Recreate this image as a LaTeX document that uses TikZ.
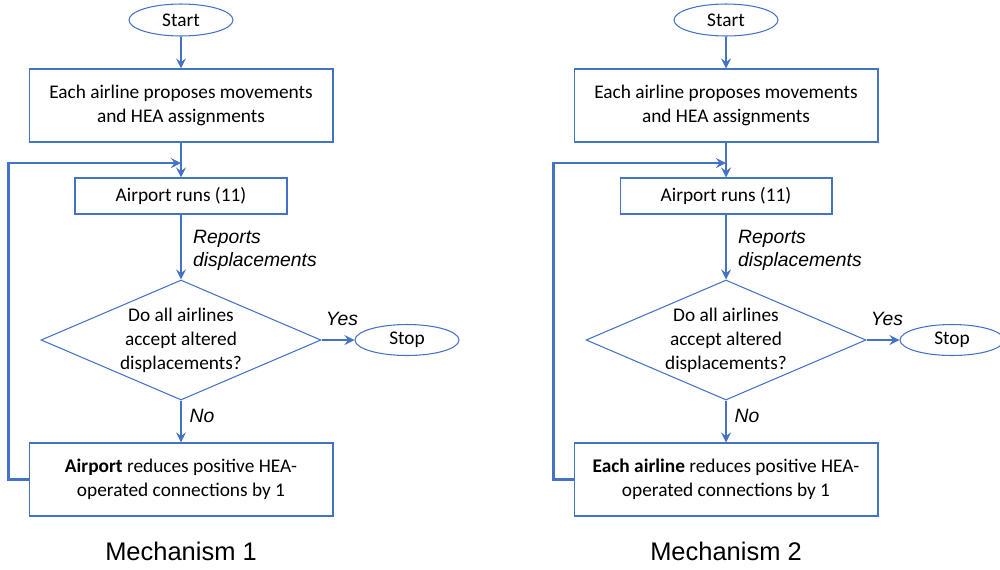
\documentclass[tikz,border=0pt]{standalone}
\usepackage{fontspec}
\setmainfont{Carlito}
\newfontfamily\labelfont{Liberation Sans}
\usetikzlibrary{shapes.geometric}
\definecolor{flowblue}{RGB}{68,114,196}
\tikzset{
  box/.style={draw=flowblue, line width=0.6pt, rectangle, align=center, inner sep=0pt,
    font=\fontsize{11}{13.6}\selectfont},
  term/.style={draw=flowblue, line width=0.6pt, ellipse, inner sep=0pt,
    minimum width=2.08cm, minimum height=0.64cm, font=\fontsize{11}{13.6}\selectfont},
  ask/.style={draw=flowblue, line width=0.6pt, diamond, aspect=2.33, inner sep=0pt,
    minimum width=5.6cm, minimum height=2.4cm, align=center, font=\fontsize{11}{13.6}\selectfont},
  flow/.style={-stealth, draw=flowblue, line width=1.5pt},
  note/.style={font=\labelfont\itshape\fontsize{11}{13.2}\selectfont, align=left},
}

\begin{document}
\begin{tikzpicture}[x=0.02cm, y=-0.02cm]
\useasboundingbox (0,0) rectangle (1000,569);
\foreach \dx/\who/\n in {0/Airport/1, 545/Each airline/2}{
  % boxes
  \node[term] (start\n) at (\dx+181,20) {Start};
  \node[box, minimum width=6.08cm, minimum height=1.46cm] (propose\n) at (\dx+181,105.5)
    {Each airline proposes movements\\and HEA assignments};
  \coordinate (merge\n) at (\dx+181,163);
  \node[box, minimum width=4.24cm, minimum height=0.72cm] (runs\n) at (\dx+181,196) {Airport runs (11)};
  \node[ask] (accept\n) at (\dx+181,340) {Do all airlines\\accept altered\\displacements?};
  \node[term, minimum height=0.62cm] (stop\n) at (\dx+407,340) {Stop};
  \node[box, minimum width=6.08cm, minimum height=1.46cm] (reduce\n) at (\dx+181,479.5)
    {\textbf{\who} reduces positive HEA-\\operated connections by 1};
  % arrows
  \draw[flow] (start\n) -- (propose\n);
  \draw[flow] (propose\n) -- (runs\n);
  \draw[flow] (runs\n) -- (accept\n);
  \draw[flow] (accept\n.east) -- (stop\n.west);
  \draw[flow] (accept\n) -- (reduce\n);
  \draw[flow] (reduce\n.west) -- ++(-20,0) |- (merge\n);
  % labels
  \node[note, anchor=west] (reports\n) at (\dx+187,250.5) {Reports\\displacements};
  \node[note] (yes\n) at (\dx+342,319) {Yes};
  \node[note] (no\n) at (\dx+202,416) {No};
  \node[font=\labelfont\fontsize{14.5}{17}\selectfont] (title\n) at (\dx+181,551) {Mechanism \n};
}
\end{tikzpicture}
\end{document}
